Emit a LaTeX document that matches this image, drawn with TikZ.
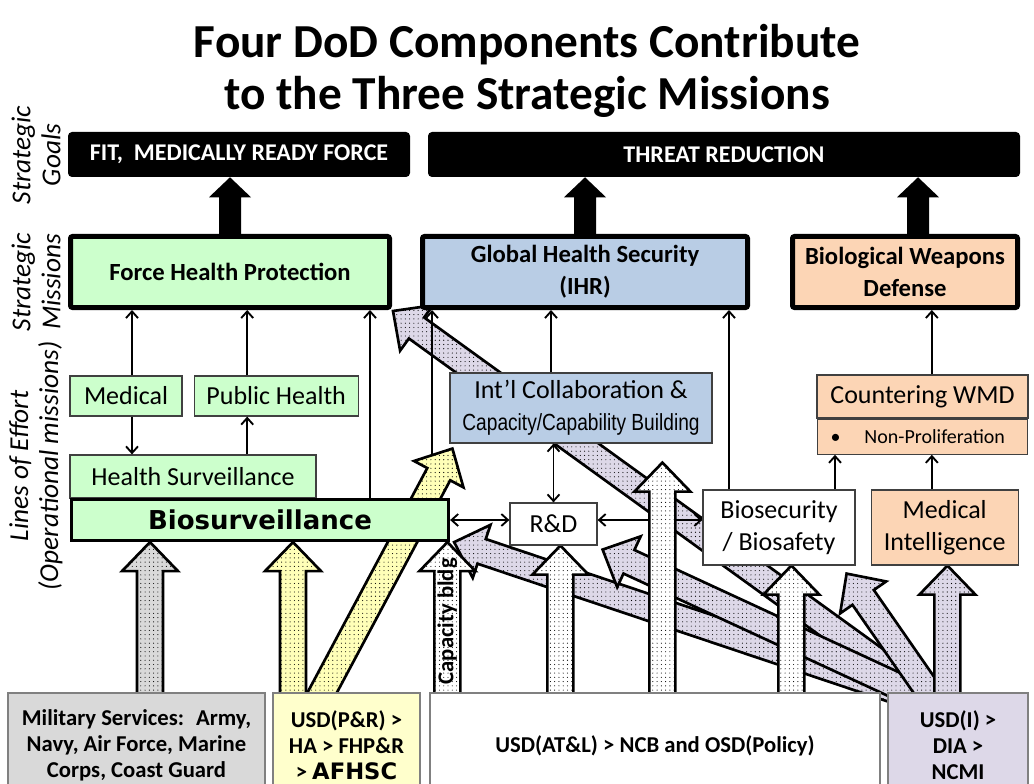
\documentclass[tikz,border=0pt]{standalone}
\usepackage{fontspec}
\setmainfont{Carlito}
\newfontfamily\heavyfont{DejaVu Sans}
\newfontfamily\narrowfont{Liberation Sans}[FakeStretch=0.82]
\usetikzlibrary{arrows.meta, positioning, calc, patterns.meta, backgrounds}
\definecolor{fhpgreen}{HTML}{CCFFCC}
\definecolor{ghsblue}{HTML}{B9CDE5}
\definecolor{bwdpeach}{HTML}{FCD5B5}
\definecolor{phryellow}{HTML}{FFFFCC}
\definecolor{milgray}{HTML}{D9D9D9}
\definecolor{usdipurple}{HTML}{DDD8E8}
\definecolor{boxedge}{HTML}{404040}

% block arrow: \fatarrow[style]{from}{to}
\def\fasw{9.75pt}
\def\fahw{21pt}
\def\fahl{21.75pt}
\newcommand{\fatarrow}[3][]{%
  \coordinate (fa-base) at ($(#3)!\fahl!(#2)$);
  \path[#1] ($(#2)!\fasw!90:(#3)$) -- ($(fa-base)!\fasw!-90:(#2)$)
    -- ($(fa-base)!\fahw!-90:(#2)$) -- (#3) -- ($(fa-base)!\fahw!90:(#2)$)
    -- ($(fa-base)!\fasw!90:(#2)$) -- ($(#2)!\fasw!-90:(#3)$) -- cycle;}

\begin{document}
\begin{tikzpicture}[x=0.75pt, y=-0.75pt,
  title/.style={align=center, font=\bfseries\fontsize{35.5}{39}\selectfont},
  side/.style={rotate=90, align=center, font=\itshape\fontsize{20.5}{22.5}\selectfont},
  goal/.style={fill=black, rounded corners=3pt, text=white, inner sep=0pt, minimum height=33.75pt, font=\bfseries\fontsize{18}{21}\selectfont},
  mission/.style={draw=black, line width=3.75pt, rounded corners=1.5pt, align=center, inner sep=0pt, minimum height=53.25pt, font=\bfseries\fontsize{18.5}{24}\selectfont},
  loe/.style={draw=boxedge, line width=0.9pt, align=center, inner sep=0pt, font=\fontsize{19.5}{24}\selectfont},
  source/.style={draw=gray, line width=0.9pt, align=center, inner sep=0pt, minimum height=78.75pt, font=\bfseries\fontsize{17}{19.5}\selectfont},
  link/.style={-{Straight Barb[length=5pt, width=9pt]}, line width=1.4pt},
  dlink/.style={{Straight Barb[length=5pt, width=9pt]}-{Straight Barb[length=5pt, width=9pt]}, line width=1.4pt},
  fat/.style={draw=black, line width=2pt, line join=miter, preaction={fill=#1}, pattern={Dots[distance=3.2pt, radius=0.42pt]}, pattern color=black},
  goalarrow/.style={fill=black}
]
\useasboundingbox (0,0) rectangle (1034,784);

% title and row labels
\node[title] (title) at (527,71) {Four DoD Components Contribute\\to the Three Strategic Missions};
\node[side] (lblGoals) at (36,155) {Strategic\\Goals};
\node[side] (lblMissions) at (36,282) {Strategic\\Missions};
\node[side] (lblEffort) at (36,466) {Lines of Effort\\(Operational missions)};

% strategic goals
\node[goal, minimum width=256.5pt] (goalA) at (239,154.5) {FIT,~ MEDICALLY READY FORCE};
\node[goal, minimum width=444pt] (goalB) at (724,154.5) {THREAT REDUCTION};

% strategic missions
\node[mission, fill=fhpgreen, minimum width=239.25pt] (fhp) at (230,272) {Force Health Protection};
\node[mission, fill=ghsblue, minimum width=243.75pt] (ghs) at (585,272) {Global Health Security\\(IHR)};
\node[mission, fill=bwdpeach, minimum width=168.75pt] (bwd) at (905,272) {Biological Weapons\\Defense};

% lines of effort
\node[loe, fill=fhpgreen, minimum width=84pt, minimum height=30pt] (med) at (126,396) {Medical};
\node[loe, fill=fhpgreen, minimum width=123pt, minimum height=30pt, right=8.25pt of med] (pub) {Public Health};
\node[loe, fill=fhpgreen, minimum width=184.5pt, minimum height=32.25pt] (hsurv) at (193,476.5) {Health Surveillance};
\node[loe, fill=fhpgreen, draw=black, line width=2.2pt, minimum width=283pt, minimum height=31pt, font=\heavyfont\bfseries\fontsize{19.5}{22}\selectfont] (bios) at (260,520) {Biosurveillance};
\node[loe, fill=ghsblue, minimum width=196.5pt, minimum height=52.5pt] (intl) at (581,408) {Int’l Collaboration \&\\{\narrowfont\fontsize{17.5}{20}\selectfont Capacity/Capability Building}};
\node[loe, fill=white, minimum width=65.25pt, minimum height=31.5pt] (rnd) at (553.5,524) {R\&D};
\node[loe, fill=white, minimum width=114pt, minimum height=56.25pt] (biosec) at (779,527.5) {Biosecurity\\/ Biosafety};
\node[loe, fill=bwdpeach, minimum width=110.25pt, minimum height=56.25pt, right=11.25pt of biosec] (medint) {Medical\\Intelligence};
\node[loe, fill=bwdpeach, minimum width=158.25pt, minimum height=32.25pt] (cwmd) at (922.5,396.5) {Countering WMD};
\node[loe, fill=bwdpeach, text width=138pt, inner xsep=10pt, minimum height=26.25pt, align=left, below=0pt of cwmd, font=\fontsize{15}{18}\selectfont] (nonprolif) {•\hspace{18pt}Non-Proliferation};

% DoD components
\node[source, fill=milgray, minimum width=192.75pt] (mil) at (136.5,745.5) {Military Services:~ Army,\\Navy, Air Force, Marine\\Corps, Coast Guard};
\node[source, fill=phryellow, minimum width=110.25pt] (phr) at (346.5,745.5) {USD(P\&R) >\\HA > FHP\&R\\> {\heavyfont AFHSC}};
\node[source, fill=white, minimum width=337.5pt] (atl) at (655,745.5) {USD(AT\&L) > NCB and OSD(Policy)};
\node[source, fill=usdipurple, minimum width=105pt] (usdi) at (958,745.5) {USD(I) >\\DIA >\\NCMI};

% arrow ends
\coordinate (fan) at ($(usdi.north west)+(50,12)$);
\coordinate (fanMI) at ($(usdi.north west)+(60,12)$);
\coordinate (tGHS) at ($(ghs.south west)+(-27,1)$);
\coordinate (tBio) at ($(bios.south east)+(4,0)$);
\coordinate (tRDp) at ($(rnd.south east)+(5,4)$);
\coordinate (tSecp) at ($(biosec.south east)+(-9,8)$);
\coordinate (tMI) at (medint.south -| fanMI);
\coordinate (sMil) at ($(mil.north)+(13.5,8)$);
\coordinate (sPR) at ($(phr.north)+(-53.5,8)$);
\coordinate (sPRd) at ($(phr.north)+(-28.5,8)$);
\coordinate (sCap) at ($(atl.north west)+(18,8)$);
\coordinate (sRD) at ($(atl.north west)+(131,8)$);
\coordinate (sMid) at ($(atl.north west)+(233,8)$);
\coordinate (sSec) at ($(atl.north west)+(362,8)$);
\coordinate (tMil) at (bios.south -| sMil);
\coordinate (tPR) at (bios.south -| sPR);
\coordinate (tPRd) at ($(intl.south west)+(3,5)$);
\coordinate (tCap) at (bios.south -| sCap);
\coordinate (tRD) at (rnd.south -| sRD);
\coordinate (tMid) at ($(intl.south -| sMid)+(0,19)$);
\coordinate (tSec) at (biosec.south -| sSec);
\coordinate (cCap) at ([xshift=129pt]bios.north);

\begin{pgfonlayer}{background}
  % USD(I) contributions
  \fatarrow[fat=usdipurple]{fan}{tGHS}
  \fatarrow[fat=usdipurple]{fan}{tBio}
  \fatarrow[fat=usdipurple]{fan}{tRDp}
  \fatarrow[fat=usdipurple]{fan}{tSecp}
  \fatarrow[fat=usdipurple]{fanMI}{tMI}
  \draw[link] (cCap) -- (cCap |- ghs.south);
  \draw[dlink] (rnd.east |- bios.east) -- (biosec.west |- bios.east);
  % USD(AT&L) contributions
  \fatarrow[fat=white]{sCap}{tCap}
  \fatarrow[fat=white]{sRD}{tRD}
  \fatarrow[fat=white]{sMid}{tMid}
  \fatarrow[fat=white]{sSec}{tSec}
  % USD(P&R) and services
  \fatarrow[fat=phryellow!90!yellow]{sPRd}{tPRd}
  \fatarrow[fat=phryellow!90!yellow]{sPR}{tPR}
  \fatarrow[fat=milgray]{sMil}{tMil}
\end{pgfonlayer}

\node[rotate=90, font=\bfseries\fontsize{17}{18}\selectfont] (capLbl) at ($(sCap)!0.5!(tCap)$) {Capacity bldg};

% missions to goals
\begin{scope}
  \def\fasw{8.25pt}\def\fahw{15.75pt}\def\fahl{15pt}
  \coordinate (gC) at ([xshift=9.75pt]bwd.north);
  \fatarrow[goalarrow]{fhp.north}{goalA.south -| fhp.north}
  \fatarrow[goalarrow]{ghs.north}{goalB.south -| ghs.north}
  \fatarrow[goalarrow]{gC}{goalB.south -| gC}
\end{scope}

% lines of effort to missions
\coordinate (cMed) at ([xshift=4.5pt]med.north);
\coordinate (cPub) at ([xshift=-21.75pt]pub.north);
\coordinate (cBio) at ([xshift=82.5pt]bios.north);
\coordinate (cIntl) at ([xshift=-22.5pt]intl.north);
\coordinate (cSec) at ([xshift=-37.5pt]biosec.north);
\coordinate (cSecW) at ([xshift=42pt]biosec.north);
\coordinate (cMI) at ([xshift=7pt]cwmd.north);
\draw[link] (cMed) -- (cMed |- fhp.south);
\draw[link] (cPub) -- (cPub |- fhp.south);
\draw[link] (med.south -| cMed) -- (hsurv.north -| cMed);
\draw[link] (hsurv.north -| cPub) -- (pub.south -| cPub);
\draw[link] (cBio) -- (cBio |- fhp.south);
\draw[link] (cIntl) -- (cIntl |- ghs.south);
\draw[link] (cSec) -- (cSec |- ghs.south);
\draw[dlink] (intl.south -| rnd.north) -- (rnd.north);
\draw[dlink] (bios.east) -- (bios.east -| rnd.west);
\draw[link] (cSecW) -- (cSecW |- nonprolif.south);
\draw[link] (medint.north -| cMI) -- (nonprolif.south -| cMI);
\draw[link] (cMI) -- (cMI |- bwd.south);
\end{tikzpicture}
\end{document}
